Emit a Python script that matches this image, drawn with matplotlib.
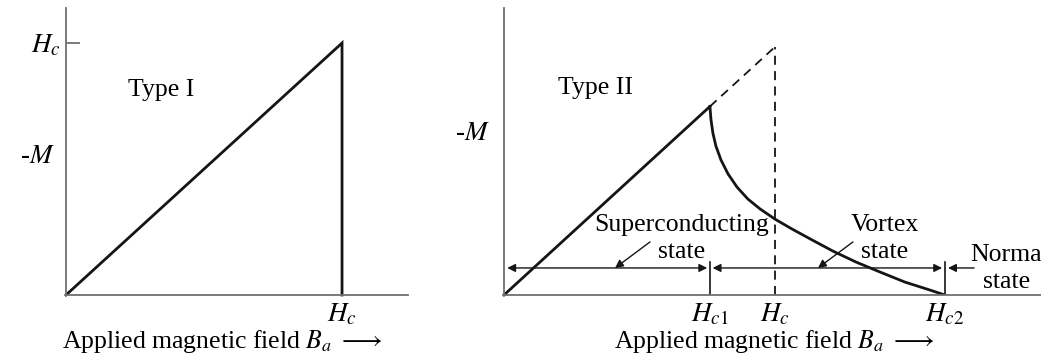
import matplotlib
matplotlib.use("Agg")
import matplotlib.pyplot as plt

plt.rcParams['font.family'] = ['Liberation Serif', 'DejaVu Serif']
plt.rcParams['mathtext.fontset'] = 'stix'

# Type I: -M rises linearly up to Hc, then drops to zero
hc = 1.0
type1_x = [0.0, hc, hc]
type1_y = [0.0, hc, 0.0]

# Type II: linear up to Hc1, then the vortex-state curve down to Hc2
hc1 = 0.76
hc2 = 1.627
vortex_x = [0.760, 0.764, 0.771, 0.782, 0.801, 0.827, 0.860, 0.900, 0.945,
            1.000, 1.063, 1.137, 1.214, 1.299, 1.387, 1.480, 1.572, 1.627]
vortex_y = [0.760, 0.706, 0.653, 0.601, 0.544, 0.488, 0.435, 0.387, 0.347,
            0.306, 0.266, 0.222, 0.177, 0.133, 0.093, 0.052, 0.020, 0.0]

ticks_1 = ['$H_c$']
ticks_2 = ['$H_{c1}$', '$H_c$', '$H_{c2}$']
xlabel = 'Applied magnetic field $B_a$ $\\longrightarrow$'

W, H = 1041, 356
fig = plt.figure(figsize=(W / 100, H / 100), dpi=100)

line_c = '#151515'
axis_c = '#707070'
fs = 18.5


def px_axes(x0, y0, x1, y1):
    return fig.add_axes([x0 / W, 1 - y1 / H, (x1 - x0) / W, (y1 - y0) / H])


def style(ax):
    for s in ['top', 'right']:
        ax.spines[s].set_visible(False)
    for s in ['left', 'bottom']:
        ax.spines[s].set_color(axis_c)
        ax.spines[s].set_linewidth(1.3)
    ax.set_facecolor('none')


# ---- left panel ----
ax1 = px_axes(66, 8, 408, 295)
style(ax1)
ax1.set_xlim(0, 1.239)
ax1.set_ylim(0, 1.139)
ax1.plot(type1_x, type1_y, color=line_c, lw=2.0, solid_joinstyle='miter', clip_on=False)
ax1.set_xticks([hc], ticks_1)
ax1.tick_params(axis='x', length=0, pad=5, labelsize=fs + 1)
ax1.set_yticks([hc], ticks_1)
ax1.tick_params(axis='y', direction='in', length=10, width=1.3, color=axis_c,
                pad=4, labelsize=fs + 1)
ax1.text(0.225, 0.813, 'Type I', fontsize=fs, ha='left', va='center')
ax1.text(-0.032, 0.481, '-$M$', fontsize=fs + 1, ha='right', va='center',
         transform=ax1.transAxes)
ax1.set_xlabel(xlabel, fontsize=fs, va='center')
ax1.xaxis.set_label_coords(0.459, -0.163)

# ---- right panel ----
ax2 = px_axes(504, 8, 1041, 295)
style(ax2)
ax2.set_xlim(0, 1.982)
ax2.set_ylim(0, 1.157)
ax2.plot([0, hc1], [0, hc1], color=line_c, lw=2.0, clip_on=False)
ax2.plot(vortex_x, vortex_y, color=line_c, lw=2.0, solid_joinstyle='round')
ax2.plot([hc1, hc], [hc1, hc], color=line_c, lw=1.3, ls=(0, (5, 3.5)))
ax2.plot([hc, hc], [0, hc], color=line_c, lw=1.3, ls=(0, (5, 3.5)))
ya = 0.109
for xv in [hc1, hc2]:
    ax2.plot([xv, xv], [0, 0.133], color=line_c, lw=1.2)

arrow = dict(arrowstyle='<|-|>', color=line_c, lw=1.0, mutation_scale=12,
             shrinkA=0, shrinkB=0)
ax2.annotate('', xy=(hc1 - 0.01, ya), xytext=(0.012, ya), arrowprops=arrow)
ax2.annotate('', xy=(hc2 - 0.01, ya), xytext=(hc1 + 0.01, ya), arrowprops=arrow)
one_way = dict(arrowstyle='-|>', color=line_c, lw=1.0, mutation_scale=12,
               shrinkA=0, shrinkB=0)
ax2.annotate('', xy=(hc2 + 0.012, ya), xytext=(1.735, ya), arrowprops=one_way)
ax2.annotate('', xy=(0.410, ya), xytext=(0.539, 0.214), arrowprops=one_way)
ax2.annotate('', xy=(1.159, ya), xytext=(1.288, 0.214), arrowprops=one_way)

ax2.text(0.657, 0.282, 'Superconducting', fontsize=fs, ha='center', va='center')
ax2.text(0.657, 0.173, 'state', fontsize=fs, ha='center', va='center')
ax2.text(1.406, 0.282, 'Vortex', fontsize=fs, ha='center', va='center')
ax2.text(1.406, 0.173, 'state', fontsize=fs, ha='center', va='center')
ax2.text(1.72, 0.161, 'Normal', fontsize=fs, ha='left', va='center', clip_on=False)
ax2.text(1.768, 0.052, 'state', fontsize=fs, ha='left', va='center', clip_on=False)

ax2.text(0.199, 0.835, 'Type II', fontsize=fs, ha='left', va='center')
ax2.text(-0.026, 0.564, '-$M$', fontsize=fs + 1, ha='right', va='center',
         transform=ax2.transAxes)
ax2.set_xticks([hc1, hc, hc2], ticks_2)
ax2.tick_params(axis='x', length=0, pad=5, labelsize=fs + 1)
ax2.set_yticks([])
ax2.set_xlabel(xlabel, fontsize=fs, va='center')
ax2.xaxis.set_label_coords(0.503, -0.163)

fig.savefig('out.png', dpi=100, facecolor='white')
